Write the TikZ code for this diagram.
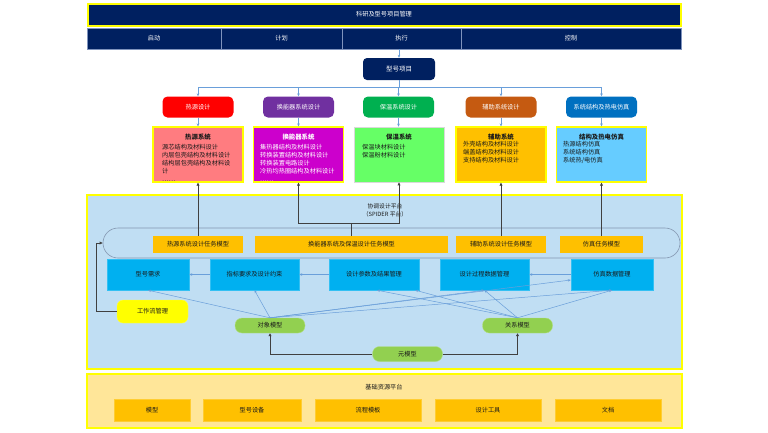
\documentclass[tikz,border=0pt]{standalone}
\usepackage{fontspec}
\setmainfont{Noto Sans CJK SC}
\usetikzlibrary{arrows.meta,calc}
\definecolor{navy}{HTML}{002060}
\definecolor{cellline}{HTML}{7F93BD}
\definecolor{cRed}{HTML}{FF0000}
\definecolor{cPurple}{HTML}{7030A0}
\definecolor{cGreen}{HTML}{00B050}
\definecolor{cBrown}{HTML}{C55A11}
\definecolor{cBlue}{HTML}{0070C0}
\definecolor{rRed}{HTML}{FF7C80}
\definecolor{rMag}{HTML}{CC00CC}
\definecolor{rGreen}{HTML}{66FF66}
\definecolor{rOrange}{HTML}{FFC000}
\definecolor{rSky}{HTML}{66CCFF}
\definecolor{platfill}{HTML}{C0DEF3}
\definecolor{pillline}{HTML}{8497B0}
\definecolor{bluebox}{HTML}{00B0F0}
\definecolor{fanline}{HTML}{6A9FDA}
\definecolor{gmodel}{HTML}{92D050}
\definecolor{bfill}{HTML}{FFE699}
\definecolor{ylw}{HTML}{FFFF00}
\definecolor{darkline}{HTML}{404040}
\definecolor{txt}{HTML}{1A1A1A}
\begin{document}
\begin{tikzpicture}[x=1pt,y=-1pt,
  every node/.style={font=\fontsize{6.2}{7.6}\selectfont, inner sep=0pt, text=txt},
  topbar/.style={draw=ylw, line width=2pt, fill=navy, text=white, minimum width=593pt, minimum height=22pt},
  navycell/.style={draw=cellline, line width=0.5pt, fill=navy, text=white, minimum height=21pt},
  xmbox/.style={fill=navy, text=white, rounded corners=4pt, minimum width=72pt, minimum height=22pt, font=\fontsize{6.5}{7.6}\selectfont},
  dbox/.style={text=white, rounded corners=5pt, minimum width=71pt, minimum height=21pt},
  rbox/.style={draw=ylw, line width=1.2pt, minimum width=90pt, minimum height=55pt},
  rtitle/.style={font=\fontsize{6.4}{7.6}\selectfont\bfseries},
  ritems/.style={align=left, anchor=north west, font=\fontsize{6.2}{8}\selectfont},
  platform/.style={draw=ylw, line width=1.8pt, fill=platfill, minimum width=595pt, minimum height=174pt},
  pillshape/.style={draw=pillline, line width=0.6pt, rounded corners=15pt, minimum width=577pt, minimum height=30pt},
  tbox/.style={fill=rOrange, minimum height=17pt},
  bbox/.style={fill=bluebox, draw=bluebox!80!white, line width=0.4pt, minimum height=31pt},
  gbox/.style={fill=gmodel, draw=gmodel!70!white, line width=0.4pt, rounded corners=7pt, minimum width=70pt, minimum height=15pt},
  wfbox/.style={fill=ylw, draw=ylw!70!white, line width=0.4pt, rounded corners=6pt, minimum width=71pt, minimum height=23pt},
  bplat/.style={draw=ylw, line width=1.8pt, fill=bfill, minimum width=595pt, minimum height=54pt},
  ybox/.style={fill=rOrange, draw=rOrange!80!white, line width=0.4pt, minimum height=22pt},
  barr/.style={draw=fanline, line width=0.6pt, -{Stealth[length=3pt,width=2.6pt]}},
  fan/.style={draw=fanline, line width=0.5pt, -{Stealth[length=3pt,width=2.4pt]}},
  darr/.style={draw=darkline, line width=0.7pt, -{Triangle[length=3pt,width=2.8pt]}}
]
\fill[white] (0,0) rectangle (768,432);
\useasboundingbox (0,0) rectangle (768,432);

% top management bar
\node[topbar] (top) at (384,14.5) {\textcolor{white}{科研及型号项目管理}};
\node[navycell, minimum width=134pt] (c1) at (154,38.5) {\textcolor{white}{启动}};
\node[navycell, minimum width=121pt] (c2) at (281.5,38.5) {\textcolor{white}{计划}};
\node[navycell, minimum width=119pt] (c3) at (401.5,38.5) {\textcolor{white}{执行}};
\node[navycell, minimum width=220pt] (c4) at (571,38.5) {\textcolor{white}{控制}};

% model project
\node[xmbox] (xm) at (399,69) {\textcolor{white}{型号项目}};
\draw[barr] (c3.south -| xm.north) -- (xm.north);

% design boxes
\node[dbox, fill=cRed] (d1) at (198,107) {\textcolor{white}{热源设计}};
\node[dbox, fill=cPurple] (d2) at (298.5,107) {\textcolor{white}{换能器系统设计}};
\node[dbox, fill=cGreen] (d3) at (398.5,107) {\textcolor{white}{保温系统设计}};
\node[dbox, fill=cBrown] (d4) at (501,107) {\textcolor{white}{辅助系统设计}};
\node[dbox, fill=cBlue] (d5) at (601.5,107) {\textcolor{white}{系统结构及热电仿真}};

\coordinate (bus) at (399,87);
\foreach \d in {d1,d2,d3,d4,d5}{
  \draw[barr] (xm.south) -- (xm.south |- bus) -| (\d.north);
}

% description boxes
\node[rbox, fill=rRed] (r1) at (198,154.5) {};
\node[rbox, fill=rMag] (r2) at (298.5,154.5) {};
\node[rbox, fill=rGreen, draw=white!85!black, line width=0.6pt] (r3) at (399,154.5) {};
\node[rbox, fill=rOrange] (r4) at (501,154.5) {};
\node[rbox, fill=rSky] (r5) at (601.5,154.5) {};

\foreach \i in {1,...,5}{
  \draw[barr] (d\i.south) -- (d\i.south |- r\i.north);
}

\node[rtitle] (r1t) at (198,137) {热源系统};
\node[ritems] (r1i) at (162,144.5) {源芯结构及材料设计\\内层包壳结构及材料设计\\结构层包壳结构及材料设\\计\\……};
\node[rtitle, text=white] (r2t) at (298.5,137) {\textcolor{white}{换能器系统}};
\node[ritems, text=white] (r2i) at (260,144.5) {\color{white}集热器结构及材料设计\\\color{white}转换装置结构及材料设计\\\color{white}转换装置电路设计\\\color{white}冷热均热圈结构及材料设计\\\color{white}……};
\node[rtitle] (r3t) at (399,137) {保温系统};
\node[ritems] (r3i) at (362,144.5) {保温块材料设计\\保温粉材料设计};
\node[rtitle] (r4t) at (501,137) {辅助系统};
\node[ritems] (r4i) at (463,141.5) {外壳结构及材料设计\\端盖结构及材料设计\\支持结构及材料设计};
\node[rtitle] (r5t) at (601.5,137) {结构及热电仿真};
\node[ritems] (r5i) at (563,141.5) {热源结构仿真\\系统结构仿真\\系统热/电仿真};

% collaborative design platform
\node[platform] (plat) at (384.5,282) {};
\node[font=\fontsize{5.8}{7}\selectfont] (pt1) at (385,206) {协调设计平台};
\node[font=\fontsize{5.8}{7}\selectfont] (pt2) at (385,214) {（SPIDER 平台）};

\node[pillshape] (pill) at (391.5,243) {};

\node[tbox, minimum width=90pt] (t1) at (198,244.5) {热源系统设计任务模型};
\node[tbox, minimum width=193pt] (t2) at (351.5,244.5) {换能器系统及保温设计任务模型};
\node[tbox, minimum width=90pt] (t3) at (501,244.5) {辅助系统设计任务模型};
\node[tbox, minimum width=83pt] (t4) at (601.5,244.5) {仿真任务模型};

\draw[darr] (t1.north) -- (t1.north |- r1.south);
\coordinate (j) at (351.5,223);
\draw[darr] (t2.north) -- (t2.north |- j) -| (r2.south);
\draw[darr] (t2.north |- j) -| (r3.south);
\draw[darr] (t3.north) -- (t3.north |- r4.south);
\draw[darr] (t4.north) -- (t4.north |- r5.south);

% blue management boxes
\node[bbox, minimum width=82pt] (b1) at (148,274.5) {型号需求};
\node[bbox, minimum width=89pt] (b2) at (254.5,274.5) {指标要求及设计约束};
\node[bbox, minimum width=90pt] (b3) at (374,274.5) {设计参数及结果管理};
\node[bbox, minimum width=89pt] (b4) at (484.5,274.5) {设计过程数据管理};
\node[bbox, minimum width=82pt] (b5) at (612,274.5) {仿真数据管理};

\draw[barr] (b2.west) -- (b1.east);
\draw[barr] (b3.west) -- (b2.east);
\draw[barr] (b5.west) -- (b4.east);

% models
\node[wfbox] (wf) at (152.5,311.5) {工作流管理};
\node[gbox] (dx) at (270,325.5) {对象模型};
\node[gbox] (gx) at (517.5,325.5) {关系模型};
\node[gbox] (yx) at (407.5,354) {元模型};

\draw[darr] (yx.west) -| (dx.south);
\draw[darr] (yx.east) -| (gx.south);
\draw[darr] (wf.west) -- ++(-20,0) |- (pill.west);

\draw[fan] (dx.north) -- (b1.south);
\draw[fan] (dx.north) -- (b2.south);
\draw[fan] (dx.north) -- (b4.south);
\draw[fan] (dx.north) -- (b5.south);
\draw[fan] (dx.north) -- ($(b5.west)+(0,5.5)$);
\draw[fan] (gx.north) -- ($(b3.south)+(3,0)$);
\draw[fan] (gx.north) -- ($(b3.south east)+(-4,0)$);
\draw[fan] (gx.north) -- (b4.south);
\draw[fan] (gx.north) -- (b5.south);

% basic resource platform
\node[bplat] (bp) at (384.5,401) {};
\node (bpt) at (384,387) {基础资源平台};
\node[ybox, minimum width=76pt] (e1) at (152,410) {模型};
\node[ybox, minimum width=98pt] (e2) at (252,410) {型号设备};
\node[ybox, minimum width=106pt] (e3) at (368,410) {流程模板};
\node[ybox, minimum width=106pt] (e4) at (488,410) {设计工具};
\node[ybox, minimum width=106pt] (e5) at (608,410) {文档};
\end{tikzpicture}
\end{document}
